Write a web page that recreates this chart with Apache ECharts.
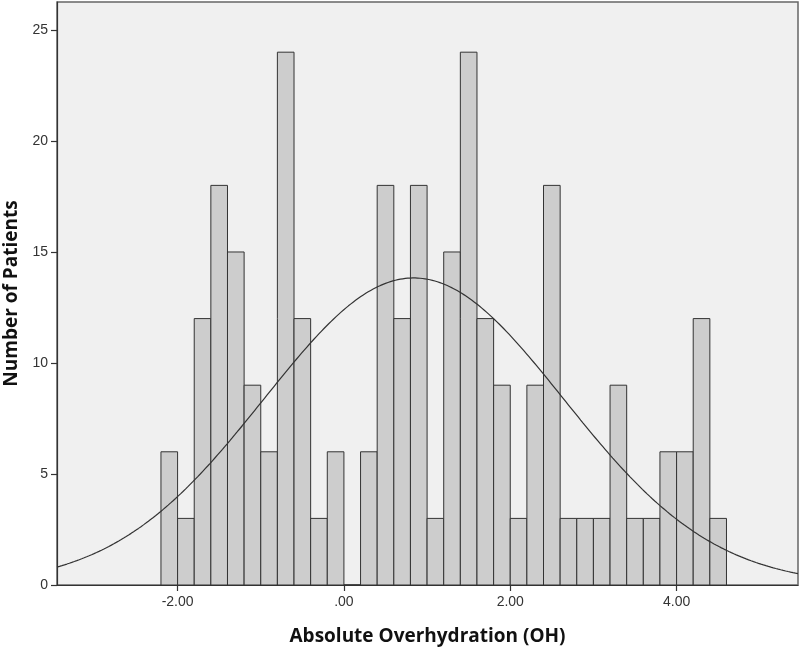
<!DOCTYPE html>
<html>
<head>
<meta charset="utf-8">
<script src="https://cdn.jsdelivr.net/npm/echarts@6/dist/echarts.min.js"></script>
<style>
html,body{margin:0;padding:0;background:#fff;}
#chart{width:800px;height:647px;}
</style>
</head>
<body>
<div id="chart"></div>
<script>
// Histogram bins (start of each bin, width 0.2)
const binStarts = [-2.2,-2.0,-1.8,-1.6,-1.4,-1.2,-1.0,-0.8,-0.6,-0.4,-0.2,0.0,0.2,0.4,0.6,0.8,1.0,1.2,1.4,1.6,1.8,2.0,2.2,2.4,2.6,2.8,3.0,3.2,3.4,3.6,3.8,4.0,4.2,4.4];
const counts    = [6,3,12,18,15,9,6,24,12,3,6,0,6,18,12,18,3,15,24,12,9,3,9,18,3,3,3,9,3,3,6,6,12,3];
const binWidth = 0.2;
const xTickValues = [-2, 0, 2, 4];
const xTickLabels = ['-2.00', '.00', '2.00', '4.00'];
const yTickValues = [0, 5, 10, 15, 20, 25];
// Normal curve parameters
const curveMean = 0.84;
const curveSD = 1.80;
const xMin = -3.45, xMax = 5.46;

const N = counts.reduce((a, b) => a + b, 0);
const histData = binStarts.map((s, i) => [s, s + binWidth, counts[i]]);
const curveData = [];
for (let k = 0; k <= 300; k++) {
  const x = xMin + (xMax - xMin) * k / 300;
  const z = (x - curveMean) / curveSD;
  curveData.push([x, N * binWidth / (curveSD * Math.sqrt(2 * Math.PI)) * Math.exp(-z * z / 2)]);
}

const chart = echarts.init(document.getElementById('chart'));
chart.setOption({
  animation: false,
  grid: {
    left: 57, right: 2, top: 2, bottom: 62,
    outerBoundsMode: 'none', containLabel: false,
    show: true, backgroundColor: '#f0f0f0', borderColor: '#666', borderWidth: 1.5
  },
  xAxis: {
    type: 'value', min: xMin, max: xMax,
    name: 'Absolute Overhydration (OH)', nameLocation: 'middle', nameGap: 42,
    nameTextStyle: { fontFamily: 'Open Sans', fontWeight: 'bold', fontSize: 19, color: '#111' },
    axisLine: { show: true, onZero: false, lineStyle: { color: '#333', width: 1.2 } },
    axisTick: { show: true, length: 6, lineStyle: { color: '#333', width: 1.2 }, customValues: xTickValues },
    axisLabel: {
      customValues: xTickValues, margin: 10,
      fontFamily: 'Liberation Sans', fontSize: 14, color: '#333',
      formatter: v => xTickLabels[xTickValues.indexOf(Math.round(v))]
    },
    splitLine: { show: false }
  },
  yAxis: {
    type: 'value', min: 0, max: 26.26,
    name: 'Number of Patients', nameLocation: 'middle', nameGap: 34,
    nameTextStyle: { fontFamily: 'Open Sans', fontWeight: 'bold', fontSize: 19, color: '#111' },
    axisLine: { show: true, onZero: false, lineStyle: { color: '#333', width: 1.2 } },
    axisTick: { show: true, length: 6, lineStyle: { color: '#333', width: 1.2 }, customValues: yTickValues },
    axisLabel: {
      customValues: yTickValues, margin: 9,
      fontFamily: 'Liberation Sans', fontSize: 14, color: '#333',
      formatter: v => String(Math.round(v))
    },
    splitLine: { show: false }
  },
  series: [
    {
      type: 'custom',
      data: histData,
      encode: { x: [0, 1], y: 2 },
      renderItem: function (params, api) {
        const p0 = api.coord([api.value(0), api.value(2)]);
        const p1 = api.coord([api.value(1), 0]);
        return {
          type: 'rect',
          shape: { x: p0[0], y: p0[1], width: p1[0] - p0[0], height: p1[1] - p0[1] },
          style: { fill: '#cdcdcd', stroke: '#333', lineWidth: 1 }
        };
      }
    },
    {
      type: 'line',
      data: curveData,
      showSymbol: false,
      smooth: false,
      lineStyle: { color: '#333', width: 1.2 },
      z: 5
    }
  ]
});
</script>
</body>
</html>
